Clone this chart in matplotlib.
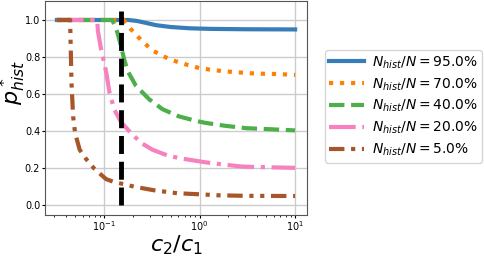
import numpy as np
import matplotlib
matplotlib.use("Agg")
import matplotlib.pyplot as plt

# ratios c2/c1 and p*_hist, one pair of lists per curve
labels = [r"$N_{hist}/N = 95.0\%$", r"$N_{hist}/N = 70.0\%$", r"$N_{hist}/N = 40.0\%$",
          r"$N_{hist}/N = 20.0\%$", r"$N_{hist}/N = 5.0\%$"]

x95 = [0.032, 0.10, 0.18, 0.22, 0.27, 0.35, 0.5, 0.8, 1.3, 3.0, 10.0]
y95 = [1.0, 1.0, 1.0, 0.995, 0.985, 0.972, 0.962, 0.955, 0.952, 0.950, 0.949]

x70 = [0.032, 0.16, 0.19, 0.224, 0.267, 0.32, 0.40, 0.496, 0.63, 0.80, 1.0,
       1.29, 1.68, 2.17, 2.76, 3.55, 4.55, 5.78, 7.45, 10.0]
y70 = [1.0, 1.0, 0.951, 0.911, 0.873, 0.836, 0.809, 0.786, 0.769, 0.753, 0.740,
       0.732, 0.725, 0.720, 0.716, 0.712, 0.710, 0.709, 0.707, 0.704]

x40 = [0.032, 0.121, 0.13, 0.139, 0.15, 0.1625, 0.176, 0.215, 0.295, 0.407,
       0.605, 0.902, 1.146, 1.57, 1.85, 3.1, 5.2, 10.0]
y40 = [1.0, 1.0, 0.97, 0.925, 0.86, 0.785, 0.725, 0.645, 0.573, 0.519,
       0.480, 0.456, 0.445, 0.434, 0.429, 0.416, 0.411, 0.404]

x20 = [0.032, 0.0846, 0.086, 0.093, 0.105, 0.1136, 0.128, 0.15, 0.183, 0.242,
       0.32, 0.477, 0.711, 1.146, 1.64, 2.76, 4.45, 10.0]
y20 = [1.0, 1.0, 0.94, 0.84, 0.72, 0.61, 0.515, 0.45, 0.40, 0.338,
       0.30, 0.266, 0.249, 0.232, 0.222, 0.209, 0.206, 0.202]

x05 = [0.032, 0.0440, 0.0455, 0.0473, 0.0496, 0.0554, 0.0651, 0.0796, 0.105,
       0.133, 0.162, 0.207, 0.333, 0.582, 1.02, 1.52, 3.0, 10.0]
y05 = [1.0, 1.0, 0.66, 0.48, 0.39, 0.30, 0.248, 0.195, 0.141,
       0.122, 0.114, 0.100, 0.081, 0.065, 0.059, 0.054, 0.051, 0.050]

x_crit = 0.15
crit_span = [0.0, 1.05]

series = [(x95, y95), (x70, y70), (x40, y40), (x20, y20), (x05, y05)]
colors = ["#377eb8", "#ff7f00", "#4daf4a", "#f781bf", "#a65628"]
styles = ["-", ":", "--", "-.", (0, (3.7, 1.6, 1, 1.6, 1, 1.6))]

fig = plt.figure(figsize=(4.84, 2.8), dpi=100)
ax = fig.add_axes([45 / 484, 65 / 280, 262 / 484, 214 / 280])

for (xs, ys), c, ls, lab in zip(series, colors, styles, labels):
    ax.plot(xs, ys, color=c, linestyle=ls, linewidth=3, label=lab)

ax.plot([x_crit, x_crit], crit_span, color="black", linestyle="--", linewidth=3.5)

ax.set_xscale("log")
ax.grid(True, which="major", color="#cccccc", linewidth=1)
ax.set_yticks([0.0, 0.2, 0.4, 0.6, 0.8, 1.0])
ax.tick_params(labelsize=7, length=2, pad=1.5)
ax.tick_params(axis="x", pad=1)
ax.tick_params(which="minor", length=1.5)
for s in ax.spines.values():
    s.set_color("#555555")

ax.set_xlabel(r"$c_2/c_1$", fontsize=16)
ax.set_ylabel(r"$p^*_{hist}$", fontsize=16)
ax.xaxis.set_label_coords(0.5, -0.085)
ax.yaxis.set_label_coords(-0.065, 0.62)

ax.legend(loc="upper left", bbox_to_anchor=(325 / 484, 1 - 50 / 280),
          bbox_transform=fig.transFigure, borderaxespad=0, fontsize=10,
          handlelength=2.5, handletextpad=0.55, labelspacing=0.4,
          borderpad=0.3)

fig.savefig("out.png", dpi=100)
